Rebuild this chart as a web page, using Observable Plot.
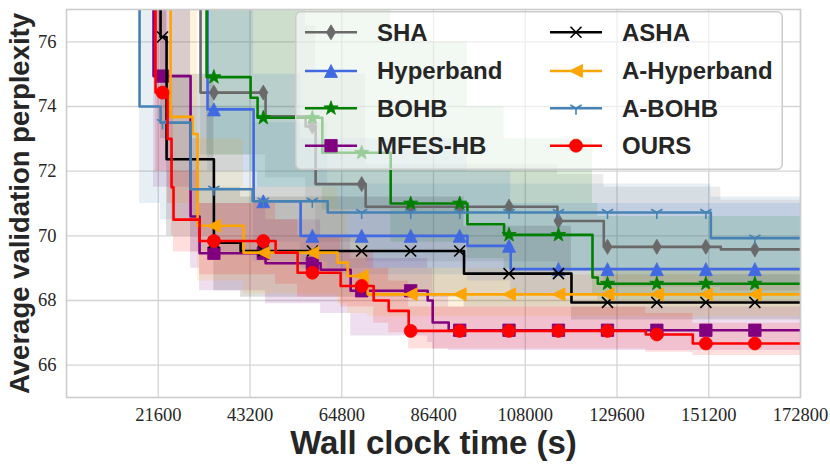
<!DOCTYPE html>
<html><head><meta charset="utf-8">
<script src="https://cdn.jsdelivr.net/npm/d3@7"></script>
<script src="https://cdn.jsdelivr.net/npm/@observablehq/plot@0.6"></script>
<style>
body{margin:0;background:#fff;}
#wrap{position:relative;width:830px;height:467px;overflow:hidden;}
#legend{position:absolute;left:295px;top:11px;width:488px;height:159px;}
</style>
</head><body>
<div id="wrap"><div id="chart"></div><svg id="legend" width="488" height="159"></svg></div>
<script>
// ---- data (time in seconds, validation perplexity) ----
const xTicks = [21600, 43200, 64800, 86400, 108000, 129600, 151200, 172800];
const yTicks = [66, 68, 70, 72, 74, 76];
const markerTimes = [22610, 34700, 46330, 57880, 69490, 81030, 92570, 104180, 115820, 127360, 138980, 150520, 162060];

const shaT  = [0, 31560, 46870, 56300, 58650, 70430, 115580, 126490, 154050];
const shaY  = [80, 74.43, 73.70, 73.38, 71.60, 70.90, 70.46, 69.66, 69.58];
const shaLo = [80, 72.5, 71.8, 71.0, 69.8, 69.2, 68.9, 68.4, 68.3];
const shaHi = [80, 78, 78, 76.5, 75.0, 72.2, 71.9, 71.5, 71.1];

const hbT  = [0, 33210, 44050, 55120, 94390, 104580];
const hbY  = [80, 73.91, 71.07, 70.00, 69.69, 68.97];
const hbLo = [80, 72.0, 69.8, 69.0, 68.6, 68.2];
const hbHi = [80, 78, 75.0, 73.0, 72.0, 71.0];

const bohbT  = [0, 32980, 43340, 44990, 60230, 76320, 94390, 103010, 123830, 125080];
const bohbY  = [80, 74.91, 74.27, 73.65, 72.57, 71.00, 70.36, 70.03, 68.71, 68.52];
const bohbLo = [80, 72.5, 72.0, 71.5, 70.8, 69.8, 69.3, 69.0, 68.2, 68.0];
const bohbHi = [80, 78, 78, 78, 77.5, 76.0, 74.0, 73.0, 71.0, 70.6];

const mfesT  = [0, 20490, 29210, 31330, 46870, 59830, 66900, 85030, 86210, 89980];
const mfesY  = [80, 74.94, 70.60, 69.46, 69.15, 68.95, 68.30, 68.00, 67.32, 67.08];
const mfesLo = [80, 71.5, 69.0, 68.3, 67.9, 67.6, 66.9, 66.7, 66.5, 66.45];
const mfesHi = [80, 78, 73.0, 71.0, 70.5, 70.0, 69.3, 69.0, 68.2, 67.8];

const ashaT  = [0, 22140, 23560, 34700, 40990, 93590, 118880];
const ashaY  = [80, 76.15, 72.37, 69.79, 69.53, 68.83, 67.94];
const ashaLo = [80, 73.0, 70.0, 68.3, 68.1, 67.8, 67.4];
const ashaHi = [80, 78, 75.0, 71.5, 71.2, 70.3, 68.8];

const ahbT  = [0, 24500, 29680, 30860, 41690, 63830, 66190, 70900];
const ahbY  = [80, 73.68, 73.15, 70.31, 69.48, 69.17, 68.76, 68.19];
const ahbLo = [80, 71.0, 70.5, 68.6, 68.2, 67.9, 67.6, 67.5];
const ahbHi = [80, 78, 77.0, 73.0, 71.5, 70.8, 70.0, 69.0];

const abohbT  = [0, 17200, 22140, 29210, 43810, 61480, 151690];
const abohbY  = [80, 74.00, 73.50, 71.44, 71.07, 70.72, 69.93];
const abohbLo = [80, 71.0, 70.5, 69.5, 69.2, 68.8, 68.5];
const abohbHi = [80, 78, 77.0, 74.0, 73.5, 71.6, 71.2];

const oursT  = [0, 20960, 23790, 24730, 25200, 31330, 49230, 54410, 64540, 72310, 75850, 80560, 136380, 147450];
const oursY  = [80, 74.43, 73.00, 71.50, 70.50, 69.84, 69.48, 68.86, 68.45, 68.00, 67.68, 67.06, 66.95, 66.67];
const oursLo = [80, 72.0, 71.0, 70.0, 69.5, 68.8, 68.5, 68.1, 67.8, 67.3, 67.0, 66.5, 66.4, 66.3];
const oursHi = [80, 78, 76.0, 74.0, 72.0, 71.0, 70.5, 70.0, 69.5, 69.0, 68.6, 67.8, 67.6, 67.3];

// ---- marker shapes ----
const rad = s => Math.sqrt(s / Math.PI);
const symbols = {
  thinDiamond: {draw(c, s){const a = rad(s); c.moveTo(0,-a); c.lineTo(0.6*a,0); c.lineTo(0,a); c.lineTo(-0.6*a,0); c.closePath();}},
  triUp: {draw(c, s){const a = rad(s); c.moveTo(0,-a); c.lineTo(a,a); c.lineTo(-a,a); c.closePath();}},
  triLeft: {draw(c, s){const a = rad(s); c.moveTo(-a,0); c.lineTo(a,-a); c.lineTo(a,a); c.closePath();}},
  square: {draw(c, s){const a = rad(s); c.rect(-a,-a,2*a,2*a);}},
  cross: {draw(c, s){const a = rad(s); c.moveTo(-a,-a); c.lineTo(a,a); c.moveTo(-a,a); c.lineTo(a,-a);}},
  triDown: {draw(c, s){const a = rad(s); c.moveTo(0,0); c.lineTo(0,a); c.moveTo(0,0); c.lineTo(-0.866*a,-0.5*a); c.moveTo(0,0); c.lineTo(0.866*a,-0.5*a);}},
  circle: {draw(c, s){const a = rad(s); c.moveTo(a,0); c.arc(0,0,a,0,2*Math.PI);}},
  star: {draw(c, s){const a = rad(s); const b = a*0.4; for(let i=0;i<10;i++){const r = i%2 ? b : a; const ang = -Math.PI/2 + i*Math.PI/5; const x = r*Math.cos(ang), y = r*Math.sin(ang); if(i===0) c.moveTo(x,y); else c.lineTo(x,y);} c.closePath();}}
};

const series = [
  {name:"SHA", color:"#696969", t:shaT, y:shaY, lo:shaLo, hi:shaHi, sym:"thinDiamond", r:7.5, filled:true},
  {name:"Hyperband", color:"#4169e1", t:hbT, y:hbY, lo:hbLo, hi:hbHi, sym:"triUp", r:6.5, filled:true},
  {name:"BOHB", color:"#008000", t:bohbT, y:bohbY, lo:bohbLo, hi:bohbHi, sym:"star", r:7.5, filled:true},
  {name:"MFES-HB", color:"#800080", t:mfesT, y:mfesY, lo:mfesLo, hi:mfesHi, sym:"square", r:6.2, filled:true},
  {name:"ASHA", color:"#000000", t:ashaT, y:ashaY, lo:ashaLo, hi:ashaHi, sym:"cross", r:5.5, filled:false},
  {name:"A-Hyperband", color:"#ffa500", t:ahbT, y:ahbY, lo:ahbLo, hi:ahbHi, sym:"triLeft", r:6.5, filled:true},
  {name:"A-BOHB", color:"#4682b4", t:abohbT, y:abohbY, lo:abohbLo, hi:abohbHi, sym:"triDown", r:6.5, filled:false},
  {name:"OURS", color:"#ff0000", t:oursT, y:oursY, lo:oursLo, hi:oursHi, sym:"circle", r:6.5, filled:true}
];
const xEnd = xTicks[xTicks.length - 1];

function rows(s){
  const out = s.t.map((t,i)=>({t, y:s.y[i], lo:s.lo[i], hi:s.hi[i]}));
  const n = s.t.length - 1;
  out.push({t:xEnd, y:s.y[n], lo:s.lo[n], hi:s.hi[n]});
  return out;
}
function markers(s){
  return markerTimes.map(mt=>{
    let k = 0; for(let i=0;i<s.t.length;i++) if(s.t[i] <= mt) k = i;
    return {t:mt, y:s.y[k]};
  });
}

const bandMarks = series.map(s => Plot.areaY(rows(s), {x:"t", y1:"lo", y2:"hi", curve:"step-after", fill:s.color, fillOpacity:0.13, clip:true}));
const lineMarks = [];
for (const s of series){
  lineMarks.push(Plot.lineY(rows(s), {x:"t", y:"y", curve:"step-after", stroke:s.color, strokeWidth:2.6, clip:true}));
  lineMarks.push(Plot.dot(markers(s), {x:"t", y:"y", symbol:symbols[s.sym], r:s.r,
    fill: s.filled ? s.color : "none", stroke: s.color, strokeWidth: s.filled ? 0.8 : 1.6, clip:true}));
}

const chart = Plot.plot({
  width: 830, height: 467,
  marginLeft: 66, marginRight: 30, marginTop: 9, marginBottom: 70,
  x: {domain:[0, xEnd]},
  y: {domain:[65, 77]},
  style: {fontFamily:"'Liberation Serif', serif", fontSize:"18.5px", color:"#262626", background:"white", overflow:"visible"},
  marks: [
    Plot.gridX(xTicks, {stroke:"#d4d4d4", strokeOpacity:1, strokeWidth:1.3}),
    Plot.gridY(yTicks, {stroke:"#d4d4d4", strokeOpacity:1, strokeWidth:1.3}),
    ...bandMarks,
    ...lineMarks,
    Plot.frame({stroke:"#cccccc", strokeWidth:1.6}),
    Plot.axisX(xTicks, {tickSize:0, tickPadding:10, label:null, tickFormat:d=>String(d), fill:"#262626"}),
    Plot.axisY(yTicks, {tickSize:0, tickPadding:10, label:null, fill:"#262626"}),
    Plot.text(["Wall clock time (s)"], {frameAnchor:"bottom", dy:46, lineAnchor:"middle", textAnchor:"middle",
      fontFamily:"'Liberation Sans', Arial, sans-serif", fontWeight:"bold", fontSize:33, fill:"#262626"}),
    Plot.text(["Average validation perplexity"], {frameAnchor:"left", dx:-46, rotate:-90, lineAnchor:"middle", textAnchor:"middle",
      fontFamily:"'Liberation Sans', Arial, sans-serif", fontWeight:"bold", fontSize:27.5, fill:"#262626"})
  ]
});
document.getElementById("chart").appendChild(chart);

// ---- legend ----
const lg = d3.select("#legend");
lg.append("rect").attr("x",0.75).attr("y",0.75).attr("width",486.5).attr("height",157.5).attr("rx",5)
  .attr("fill","rgba(255,255,255,0.6)").attr("stroke","#cccccc").attr("stroke-width",1.5);
const rowY = [21.3, 60, 97.3, 134.7];
const colX = [10, 255];
series.forEach((s, i) => {
  const col = Math.floor(i / 4), row = i % 4;
  const x0 = colX[col], y0 = rowY[row];
  const g = lg.append("g");
  g.append("line").attr("x1",x0).attr("x2",x0+52).attr("y1",y0).attr("y2",y0).attr("stroke",s.color).attr("stroke-width",2.6);
  const p = d3.path(); symbols[s.sym].draw(p, Math.PI*s.r*s.r);
  g.append("path").attr("d", p.toString()).attr("transform",`translate(${x0+26},${y0})`)
    .attr("fill", s.filled ? s.color : "none").attr("stroke", s.color).attr("stroke-width", s.filled ? 0.8 : 1.6);
  g.append("text").attr("x", x0+72).attr("y", y0).attr("dy","0.35em").text(s.name)
    .attr("font-family","'Liberation Sans', Arial, sans-serif").attr("font-weight","bold").attr("font-size",24).attr("fill","#262626");
});
</script>
</body></html>
